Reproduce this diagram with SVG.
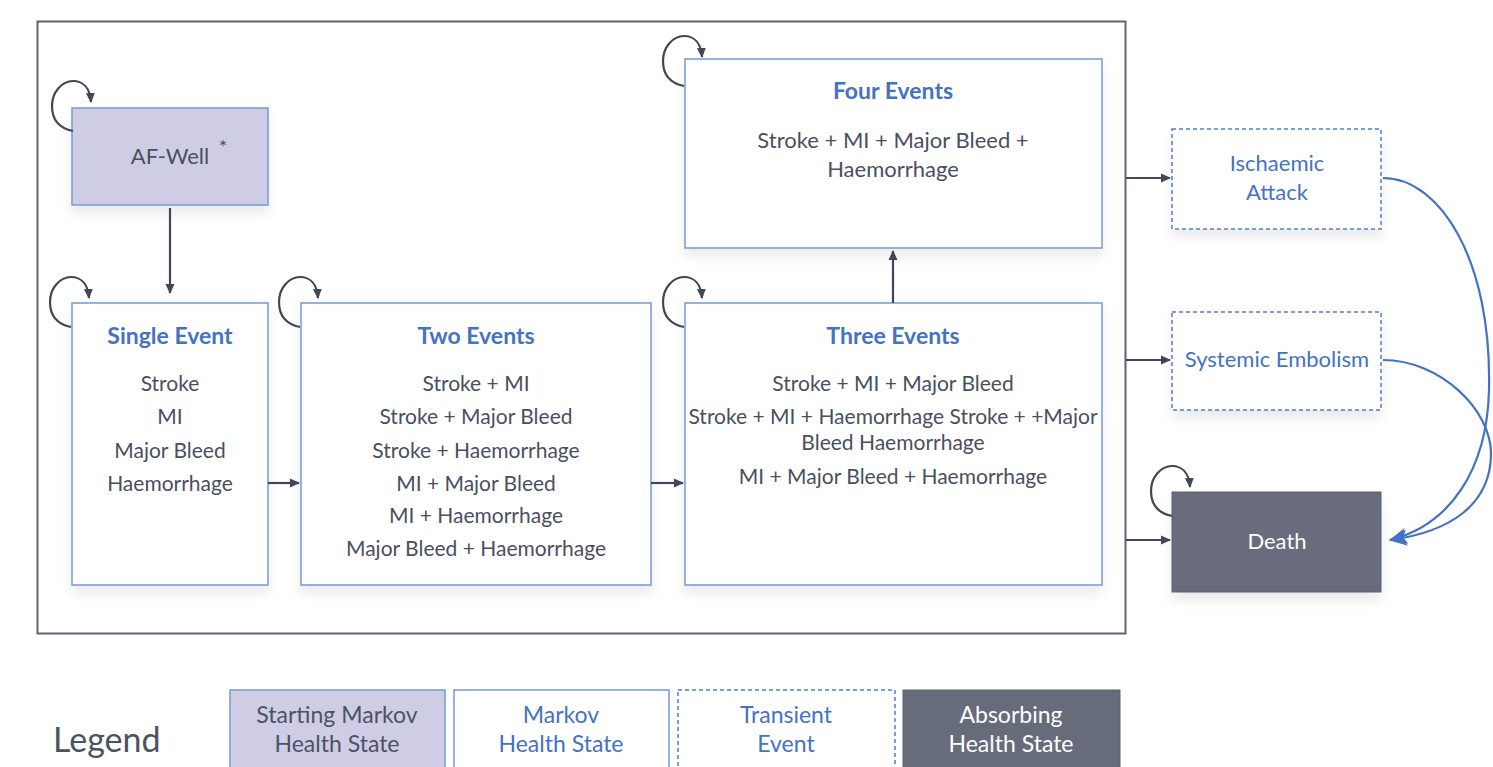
<svg xmlns="http://www.w3.org/2000/svg" width="1493" height="767" viewBox="0 0 1493 767">
<defs>
<style>
.box{fill:#ffffff;stroke:#7499d9;stroke-width:1.5}
.start{fill:#cfcde6;stroke:#7499d9;stroke-width:1.5}
.dash{fill:#ffffff;stroke:#4f7fd0;stroke-width:1.5;stroke-dasharray:4 3}
.dark{fill:#676c7b;stroke:#5c6170;stroke-width:1}
.t{font-family:Lato,"Open Sans","Liberation Sans",sans-serif;font-size:21px;fill:#4a4f60;text-anchor:middle;dominant-baseline:central}
.h{font-family:Lato,"Open Sans","Liberation Sans",sans-serif;font-size:23px;font-weight:bold;fill:#4472c4;text-anchor:middle;dominant-baseline:central}
.b{fill:#4472c4}
.w{fill:#ffffff}
.lg{font-family:Lato,"Open Sans","Liberation Sans",sans-serif;font-size:23px;text-anchor:middle;dominant-baseline:central}
.ar{fill:none;stroke:#41465a;stroke-width:2.2}
.bl{fill:none;stroke:#4472c4;stroke-width:2.2}
</style>
<marker id="ah" markerWidth="12" markerHeight="12" refX="9" refY="6" orient="auto" markerUnits="userSpaceOnUse">
<path d="M0,1.5 L10,6 L0,10.5 z" fill="#41465a"/>
</marker>
<marker id="bh" markerWidth="20" markerHeight="18" refX="17" refY="9" orient="auto" markerUnits="userSpaceOnUse">
<path d="M0,1 L18,9 L0,17 L4,9 z" fill="#4472c4"/>
</marker>
<filter id="sh" x="-10%" y="-10%" width="120%" height="130%">
<feDropShadow dx="0" dy="8" stdDeviation="6" flood-color="#000000" flood-opacity="0.08"/>
</filter>
</defs>
<rect width="1493" height="767" fill="#ffffff"/>
<rect x="37.5" y="21.5" width="1088" height="612" fill="none" stroke="#5f6474" stroke-width="2"/>

<g id="af-well">
<rect class="start" x="72" y="108" width="196" height="97" filter="url(#sh)"/>
<text class="t" x="170" y="155" style="font-size:22px">AF-Well</text>
<text class="t" x="223" y="146" style="font-size:20px">*</text>
</g>
<g id="single-event">
<rect class="box" x="72" y="303" width="196" height="282" filter="url(#sh)"/>
<text class="h" x="170" y="335">Single Event</text>
<text class="t" x="170" y="382">Stroke</text>
<text class="t" x="170" y="415">MI</text>
<text class="t" x="170" y="449">Major Bleed</text>
<text class="t" x="170" y="482">Haemorrhage</text>
</g>
<g id="two-events">
<rect class="box" x="301" y="303" width="350" height="282" filter="url(#sh)"/>
<text class="h" x="476" y="335">Two Events</text>
<text class="t" x="476" y="382">Stroke + MI</text>
<text class="t" x="476" y="415">Stroke + Major Bleed</text>
<text class="t" x="476" y="449">Stroke + Haemorrhage</text>
<text class="t" x="476" y="482">MI + Major Bleed</text>
<text class="t" x="476" y="514">MI + Haemorrhage</text>
<text class="t" x="476" y="547">Major Bleed + Haemorrhage</text>
</g>
<g id="three-events">
<rect class="box" x="685" y="303" width="417" height="282" filter="url(#sh)"/>
<text class="h" x="893" y="335">Three Events</text>
<text class="t" x="893" y="382">Stroke + MI + Major Bleed</text>
<text class="t" x="893" y="415">Stroke + MI + Haemorrhage Stroke + +Major</text>
<text class="t" x="893" y="441">Bleed Haemorrhage</text>
<text class="t" x="893" y="475">MI + Major Bleed + Haemorrhage</text>
</g>
<g id="four-events">
<rect class="box" x="685" y="59" width="417" height="189" filter="url(#sh)"/>
<text class="h" x="893" y="90">Four Events</text>
<text class="t" x="893" y="139" style="font-size:22px">Stroke + MI + Major Bleed +</text>
<text class="t" x="893" y="168" style="font-size:22px">Haemorrhage</text>
</g>
<g id="ischaemic-attack">
<rect class="dash" x="1172" y="129" width="209" height="100" filter="url(#sh)"/>
<text class="t b" x="1277" y="162" style="font-size:22px">Ischaemic</text>
<text class="t b" x="1277" y="191" style="font-size:22px">Attack</text>
</g>
<g id="systemic-embolism">
<rect class="dash" x="1172" y="312" width="209" height="98" filter="url(#sh)"/>
<text class="t b" x="1277" y="358" style="font-size:22px">Systemic Embolism</text>
</g>
<g id="death">
<rect class="dark" x="1172" y="492" width="209" height="100" filter="url(#sh)"/>
<text class="t w" x="1277" y="540" style="font-size:22px">Death</text>
</g>

<g id="connectors">
<path class="ar" d="M170,208 L170,293" marker-end="url(#ah)"/>
<path class="ar" d="M268,483 L299,483" marker-end="url(#ah)"/>
<path class="ar" d="M651,483 L683,483" marker-end="url(#ah)"/>
<path class="ar" d="M893,303 L893,251" marker-end="url(#ah)"/>
<path class="ar" d="M1126,178 L1170,178" marker-end="url(#ah)"/>
<path class="ar" d="M1126,360 L1170,360" marker-end="url(#ah)"/>
<path class="ar" d="M1126,540 L1170,540" marker-end="url(#ah)"/>
<path class="ar" d="M73,131 C58,128 52,118 52,106 C52,92 62,81 73,81 C83,81 90,88 91,102" marker-end="url(#ah)"/>
<path class="ar" d="M71,327 C56,324 50,314 50,302 C50,288 60,277 71,277 C81,277 88,284 89,298" marker-end="url(#ah)"/>
<path class="ar" d="M300,327 C285,324 279,314 279,302 C279,288 289,277 300,277 C310,277 317,284 318,298" marker-end="url(#ah)"/>
<path class="ar" d="M684,327 C669,324 663,314 663,302 C663,288 673,277 684,277 C694,277 701,284 702,298" marker-end="url(#ah)"/>
<path class="ar" d="M684,86 C669,83 663,73 663,61 C663,47 673,36 684,36 C694,36 701,43 702,57" marker-end="url(#ah)"/>
<path class="ar" d="M1172,516 C1157,513 1151,503 1151,491 C1151,477 1161,466 1172,466 C1182,466 1189,473 1190,487" marker-end="url(#ah)"/>
<path class="bl" d="M1383,178 C1440,178 1492,260 1489,390 C1487,470 1450,525 1390,540" marker-end="url(#bh)"/>
<path class="bl" d="M1383,360 C1440,360 1492,410 1491,455 C1490,505 1450,532 1390,540" marker-end="url(#bh)"/>
</g>

<g id="legend">
<text x="53" y="738" style="font-family:Lato,'Open Sans','Liberation Sans',sans-serif;font-size:34px;fill:#4d5263;dominant-baseline:central">Legend</text>
<rect class="start" x="230" y="690" width="215" height="80"/>
<text class="lg" x="337" y="714" fill="#4d5263">Starting Markov</text>
<text class="lg" x="337" y="743" fill="#4d5263">Health State</text>
<rect class="box" x="454" y="690" width="215" height="80"/>
<text class="lg" x="561" y="714" fill="#4472c4">Markov</text>
<text class="lg" x="561" y="743" fill="#4472c4">Health State</text>
<rect class="dash" x="678" y="690" width="217" height="80"/>
<text class="lg" x="786" y="714" fill="#4472c4">Transient</text>
<text class="lg" x="786" y="743" fill="#4472c4">Event</text>
<rect class="dark" x="903" y="690" width="217" height="80"/>
<text class="lg" x="1011" y="714" fill="#ffffff">Absorbing</text>
<text class="lg" x="1011" y="743" fill="#ffffff">Health State</text>
</g>
</svg>
